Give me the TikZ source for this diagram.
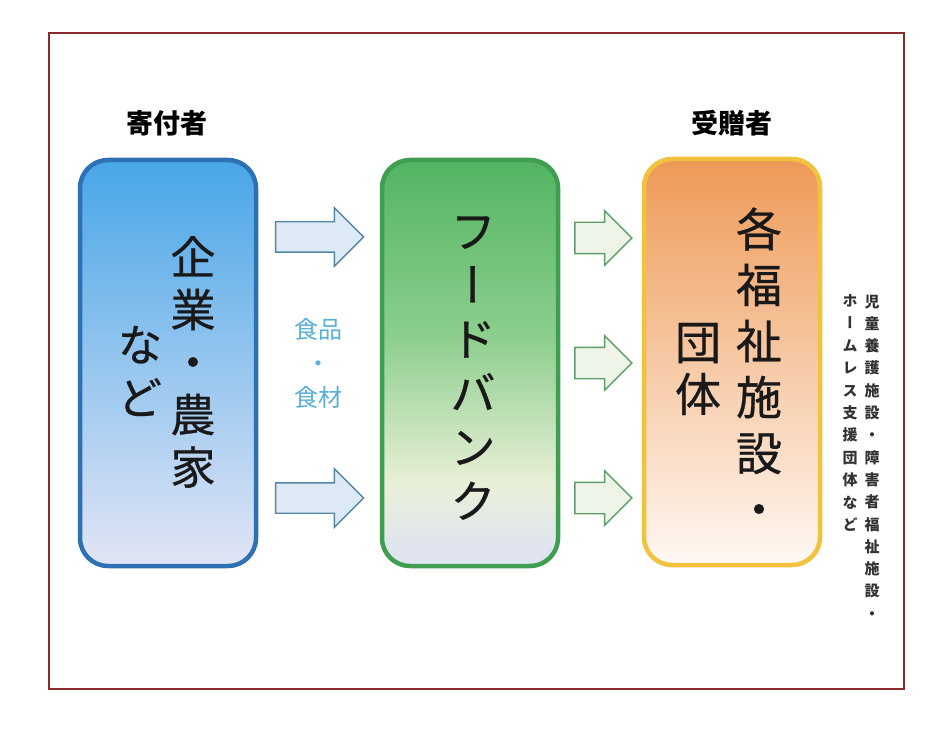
\documentclass[tikz,border=0pt]{standalone}
\usepackage{fontspec}
\usepackage{xcolor}
\usetikzlibrary{shapes.arrows}
\newfontfamily\jpfont{Noto Sans CJK JP}
\newfontfamily\jpvert[RawFeature=+vert]{Noto Sans CJK JP}
\newfontfamily\jpbox[RawFeature=+vert,FakeBold=0.6]{Noto Sans CJK JP}

\definecolor{framered}{HTML}{8A2A2A}
\definecolor{donorline}{HTML}{2F6FB3}
\definecolor{donortop}{HTML}{48A6E8}
\definecolor{donormid}{HTML}{80B8EA}
\definecolor{donorbot}{HTML}{E2E5F5}
\definecolor{bankline}{HTML}{3F9E4F}
\definecolor{banktop}{HTML}{52B562}
\definecolor{bankmid}{HTML}{8ECF8E}
\definecolor{banklight}{HTML}{BCDFB4}
\definecolor{bankcream}{HTML}{E9F0D8}
\definecolor{bankbot}{HTML}{DFE4F0}
\definecolor{recipline}{HTML}{F0C23E}
\definecolor{reciptop}{HTML}{EE9A57}
\definecolor{recipmid}{HTML}{F7CBA6}
\definecolor{recipbot}{HTML}{FFF8F3}
\definecolor{inline}{HTML}{5486A6}
\definecolor{infill}{HTML}{DDEAF5}
\definecolor{outline}{HTML}{5C9E66}
\definecolor{outfill}{HTML}{EEF5E8}
\definecolor{foodblue}{HTML}{5AAFD6}

% green fade of the food bank box
\pgfdeclareverticalshading{bankshade}{100bp}{color(0bp)=(bankbot); color(27bp)=(bankbot);
  color(35bp)=(bankcream); color(44bp)=(banklight); color(53bp)=(bankmid);
  color(75bp)=(banktop); color(100bp)=(banktop)}

\tikzset{
  flowbox/.style={draw, rounded corners=28pt, line width=4.5pt, inner sep=0pt,
    minimum width=176pt, minimum height=406pt},
  boxtext/.style={align=center, inner sep=0pt, text=black!90},
  inarrow/.style={single arrow, draw=inline, fill=infill, line width=1.4pt,
    inner xsep=0pt, inner ysep=14.5pt, minimum height=88pt, minimum width=57pt,
    single arrow head extend=14pt, single arrow tip angle=90},
  outarrow/.style={single arrow, draw=outline, fill=outfill, line width=1.4pt,
    inner xsep=0pt, inner ysep=15pt, minimum height=57pt, minimum width=53pt,
    single arrow head extend=11.5pt, single arrow tip angle=90},
}

\begin{document}
\begin{tikzpicture}[x=1pt,y=-1pt]
    \useasboundingbox (0,0) rectangle (948,746);
    \fill[white] (0,0) rectangle (948,746);
    \draw[framered, line width=1.6pt] (49,33) rectangle (904,689);

    \node[font=\jpfont\bfseries\fontsize{27}{30}\selectfont] (donorlabel) at (167,123) {寄付者};
    \node[font=\jpfont\bfseries\fontsize{27}{30}\selectfont] (reciplabel) at (732,123) {受贈者};

    \node[flowbox, donorline, top color=donortop, middle color=donormid, bottom color=donorbot] (donors) at (168,363) {};
    \node[flowbox, bankline, shading=bankshade] (bank) at (470,363) {};
    \node[flowbox, recipline, top color=reciptop, middle color=recipmid, bottom color=recipbot] (recips) at (732,362) {};

    \node[boxtext, font=\jpbox\fontsize{45}{52.5}\selectfont] (donortxt) at (193,362) {企\\業\\・\\農\\家};
    \node[boxtext, font=\jpbox\fontsize{45}{53}\selectfont] (donortxtb) at (140,371) {な\\ど};
    \node[boxtext, font=\jpbox\fontsize{46}{54}\selectfont] (banktxt) at (473,368) {フ\\ー\\ド\\バ\\ン\\ク};
    \node[boxtext, font=\jpbox\fontsize{46}{56}\selectfont] (reciptxt) at (759,367) {各\\福\\祉\\施\\設\\・};
    \node[boxtext, font=\jpbox\fontsize{46}{52}\selectfont] (reciptxtb) at (698,369) {団\\体};

    \node[inarrow] (inA) at (312,237) {};
    \node[inarrow] (inB) at (312,498) {};
    \node[align=center, inner sep=0pt, text=foodblue, font=\jpfont\fontsize{24}{34}\selectfont] (food) at (318,363) {食品\\・\\食材};

    \node[outarrow] (outA) at (595.5,238) {};
    \node[outarrow] (outB) at (595.5,363) {};
    \node[outarrow] (outC) at (595.5,498) {};

    % note beside the recipients
    \node[boxtext, text=black!80, font=\jpvert\bfseries\fontsize{15}{22.3}\selectfont] (notea) at (872,457) {児\\童\\養\\護\\施\\設\\・\\障\\害\\者\\福\\祉\\施\\設\\・};
    \node[boxtext, text=black!80, font=\jpvert\bfseries\fontsize{15}{22.4}\selectfont] (noteb) at (850,413) {ホ\\ー\\ム\\レ\\ス\\支\\援\\団\\体\\な\\ど};
\end{tikzpicture}
\end{document}
